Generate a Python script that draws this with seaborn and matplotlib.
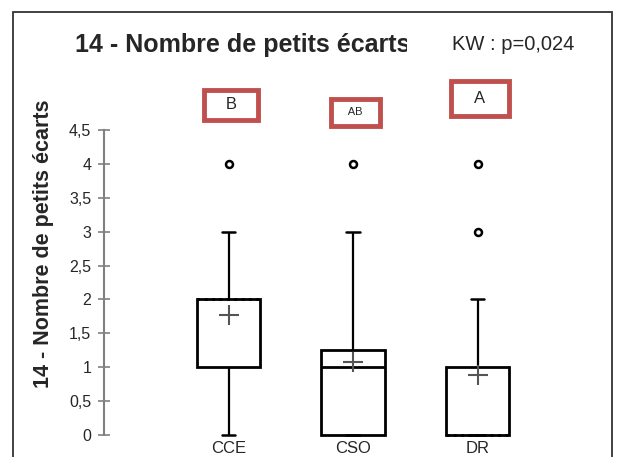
"""
plot.py — Boîtes à moustaches : 14 - Nombre de petits écarts (CCE / CSO / DR)
Sortie : out.png (626x457)
"""
import matplotlib
matplotlib.use("Agg")
import pandas as pd
import matplotlib.pyplot as plt
import seaborn as sns
from matplotlib.patches import Rectangle
from matplotlib.transforms import Bbox, TransformedBbox
from matplotlib.ticker import FuncFormatter

# Valeurs individuelles par groupe (retrouvées à partir des quartiles,
# des moyennes (+) et des points isolés lus sur le graphique)
groupes = ["CCE", "CSO", "DR"]
valeurs_cce = [0, 1, 1, 1, 2, 2, 2, 3, 4]
valeurs_cso = [0, 0, 0, 0, 0, 1, 1, 1, 1, 2, 3, 4]
valeurs_dr = [0, 0, 0, 0, 0, 0, 0, 0, 0, 1, 1, 1, 1, 2, 2, 3, 4]
lettres = ["   B   ", "   AB   ", "   A   "]
graduations = [0, 0.5, 1, 1.5, 2, 2.5, 3, 3.5, 4, 4.5]
titre = "14 - Nombre de petits écarts"
test_kw = "KW : p=0,024"

# style des médianes (pointillé quand elle se confond avec un bord)
style_mediane = [":", "-", ":"]
# mise en page des lettres
hauteur_lettre = [4.87, 4.76, 4.96]
taille_lettre = [12, 8, 12]
pad_lettre = [0.45, 0.75, 0.6]

ROUGE = "#c0504d"
GRIS = "#808080"

sns.set_style("white")
plt.rcParams["font.family"] = ["Liberation Sans", "DejaVu Sans"]

df = pd.DataFrame({
    "groupe": (["CCE"] * len(valeurs_cce) + ["CSO"] * len(valeurs_cso)
               + ["DR"] * len(valeurs_dr)),
    "valeur": valeurs_cce + valeurs_cso + valeurs_dr,
})

fig = plt.figure(figsize=(6.26, 4.57), dpi=100)
ax = fig.add_axes([104 / 626, 1 - 435 / 457, 498 / 626, 305 / 457])

sns.boxplot(data=df, x="groupe", y="valeur", order=groupes, ax=ax,
            color="white", linecolor="black", linewidth=2, width=0.51,
            showmeans=True, capwidths=0.11,
            meanprops=dict(marker="+", markeredgecolor="#555555",
                           markersize=14, markeredgewidth=1.5),
            flierprops=dict(marker="o", markersize=5, markerfacecolor="white",
                            markeredgecolor="black", markeredgewidth=1.8),
            medianprops=dict(linestyle=":", linewidth=2, color="black"),
            whiskerprops=dict(linewidth=1.6),
            capprops=dict(linewidth=1.8))

medianes = [l for l in ax.lines if l.get_linestyle() == ":"]
for ligne, style in zip(medianes, style_mediane):
    ligne.set_linestyle(style)

for art in ax.lines + ax.patches:
    art.set_clip_on(False)

ax.set_xlim(-1.0, 3.0)
ax.set_ylim(0, 4.5)
ax.set_yticks(graduations)
ax.yaxis.set_major_formatter(FuncFormatter(lambda v, p: f"{v:g}".replace(".", ",")))
ax.set_xlabel("")
ax.set_ylabel("")
for s in ["top", "right", "bottom"]:
    ax.spines[s].set_visible(False)
ax.spines["left"].set_color(GRIS)
ax.spines["left"].set_linewidth(1.5)
ax.tick_params(axis="y", direction="inout", length=8.5, width=1.2, color=GRIS,
               labelsize=11.5, pad=5, left=True)
ax.tick_params(axis="x", length=0, labelsize=12, pad=4)

for i, (lt, y, fs, pad) in enumerate(zip(lettres, hauteur_lettre, taille_lettre, pad_lettre)):
    ax.text(i + 0.02, y, lt, ha="center", va="center", fontsize=fs, clip_on=False,
            bbox=dict(boxstyle=f"square,pad={pad}", fc="white", ec=ROUGE, lw=3.5))

fig.text(44 / 626, 1 - 244 / 457, titre, rotation=90, fontsize=15.5,
         fontweight="bold", ha="center", va="center")

t = fig.text(75 / 626, 1 - 45 / 457, titre, fontsize=18, fontweight="bold",
             ha="left", va="center")
t.set_clip_box(TransformedBbox(Bbox([[0, 0], [407 / 626, 1]]), fig.transFigure))
t.set_clip_on(True)
fig.text(452 / 626, 1 - 45 / 457, test_kw, fontsize=14.5, ha="left", va="center")

fig.patches.append(Rectangle((13 / 626, -0.05), (612 - 13) / 626, 1 - 12 / 457 + 0.05,
                             transform=fig.transFigure, fill=False,
                             ec="#333333", lw=1.3))

fig.savefig("out.png", dpi=100)
plt.close(fig)
print("[OK] out.png")
